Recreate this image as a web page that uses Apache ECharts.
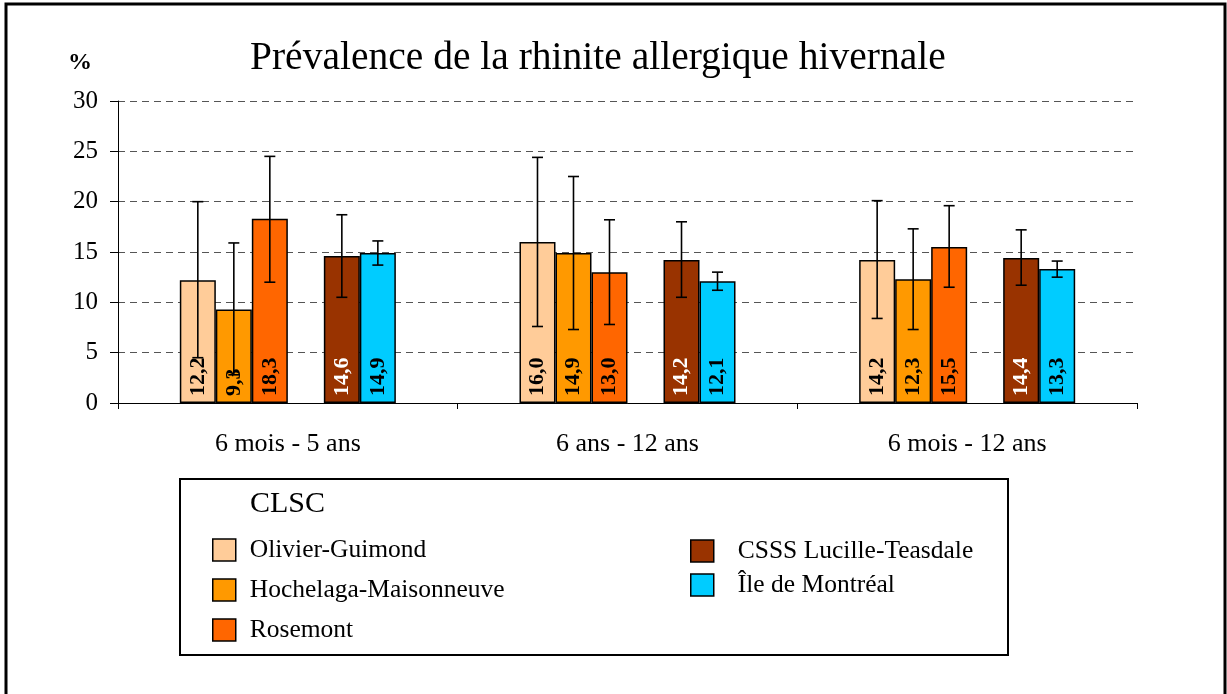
<!DOCTYPE html>
<html>
<head>
<meta charset="utf-8">
<script src="https://cdn.jsdelivr.net/npm/echarts@6/dist/echarts.min.js"></script>
<style>
html, body { margin: 0; padding: 0; background: #fff; }
#main { width: 1227px; height: 694px; }
</style>
</head>
<body>
<div id="main"></div>
<script>
// catégories (groupes d'âge)
var categories = ['6 mois - 5 ans', '6 ans - 12 ans', '6 mois - 12 ans'];
var yTicks = [0, 5, 10, 15, 20, 25, 30];

// prévalence (%) par CLSC
var olivier = [12.2, 16.0, 14.2];
var hochelaga = [9.3, 14.9, 12.3];
var rosemont = [18.3, 13.0, 15.5];
var csss = [14.6, 14.2, 14.4];
var ile = [14.9, 12.1, 13.3];

// intervalles de confiance (bas / haut)
var olivierLow = [4.5, 7.6, 8.4];
var olivierHigh = [20.0, 24.4, 20.1];
var hochelagaLow = [2.8, 7.3, 7.3];
var hochelagaHigh = [15.9, 22.5, 17.3];
var rosemontLow = [12.0, 7.8, 11.5];
var rosemontHigh = [24.5, 18.2, 19.6];
var csssLow = [10.5, 10.5, 11.7];
var csssHigh = [18.7, 18.0, 17.2];
var ileLow = [13.7, 11.2, 12.5];
var ileHigh = [16.1, 13.0, 14.1];

var FONT = '"Liberation Serif", "Times New Roman", serif';
var CAT_GAP = 0.364;

var myChart = echarts.init(document.getElementById('main'));

function fmt(v) {
	return v.toFixed(1).replace('.', ',');
}

function barSeries(name, data, color, labelColor) {
	return {
		name: name,
		type: 'bar',
		data: data,
		barGap: '0%',
		barCategoryGap: (CAT_GAP * 100) + '%',
		itemStyle: {
			color: color,
			borderColor: '#000',
			borderWidth: 1.5
		},
		label: {
			show: true,
			position: 'insideBottom',
			rotate: 90,
			align: 'left',
			verticalAlign: 'middle',
			distance: 7,
			fontFamily: FONT,
			fontWeight: 'bold',
			fontSize: 22,
			color: labelColor,
			formatter: function (p) { return fmt(p.value); }
		}
	};
}

// barres d'erreur : [catégorie, position dans le groupe, bas, haut]
var errData = [];
var errSets = [
	[0, olivierLow, olivierHigh],
	[1, hochelagaLow, hochelagaHigh],
	[2, rosemontLow, rosemontHigh],
	[4, csssLow, csssHigh],
	[5, ileLow, ileHigh]
];
for (var s = 0; s < errSets.length; s++) {
	for (var i = 0; i < categories.length; i++) {
		errData.push([i, errSets[s][0], errSets[s][1][i], errSets[s][2][i]]);
	}
}

var lineStyle = { stroke: '#000', lineWidth: 1.6 };

myChart.setOption({
	animation: false,
	title: {
		text: 'Prévalence de la rhinite allergique hivernale',
		left: 245,
		top: 34,
		textStyle: {
			fontFamily: FONT,
			fontWeight: 'normal',
			fontSize: 39.5,
			color: '#000'
		}
	},
	grid: {
		left: 118,
		right: 90,
		top: 101,
		bottom: 291
	},
	legend: [{
		data: ['Olivier-Guimond', 'Hochelaga-Maisonneuve', 'Rosemont'],
		orient: 'vertical',
		left: 207,
		top: 532,
		itemWidth: 23,
		itemHeight: 22,
		itemGap: 14,
		icon: 'rect',
		itemStyle: { borderColor: '#000', borderWidth: 1.5 },
		textStyle: { fontFamily: FONT, fontSize: 25.5, color: '#000', padding: [0, 0, 0, 9] }
	}, {
		data: ['CSSS Lucille-Teasdale', 'Île de Montréal'],
		orient: 'vertical',
		left: 685,
		top: 533,
		itemWidth: 23,
		itemHeight: 22,
		itemGap: 8,
		icon: 'rect',
		itemStyle: { borderColor: '#000', borderWidth: 1.5 },
		textStyle: { fontFamily: FONT, fontSize: 25.5, color: '#000', padding: [0, 0, 0, 19] }
	}],
	xAxis: {
		type: 'category',
		data: categories,
		axisLine: { lineStyle: { color: '#000', width: 1 } },
		axisTick: { show: true, length: 6, lineStyle: { color: '#000' } },
		axisLabel: {
			margin: 28,
			fontFamily: FONT,
			fontSize: 26,
			color: '#000'
		}
	},
	yAxis: {
		type: 'value',
		min: yTicks[0],
		max: yTicks[yTicks.length - 1],
		interval: 5,
		name: '%',
		nameLocation: 'end',
		nameGap: 26,
		nameTextStyle: {
			fontFamily: FONT,
			fontWeight: 'bold',
			fontSize: 24,
			color: '#000',
			align: 'right',
			padding: [0, 26, 0, 0]
		},
		axisLine: { show: true, lineStyle: { color: '#000', width: 1 } },
		axisTick: { show: true, length: 8, lineStyle: { color: '#000' } },
		axisLabel: {
			margin: 20,
			fontFamily: FONT,
			fontSize: 25,
			color: '#000'
		},
		splitLine: {
			show: true,
			lineStyle: { color: '#555', width: 1, type: [7, 5] }
		}
	},
	graphic: [{
		type: 'rect',
		shape: { x: 6, y: 4, width: 1219, height: 700 },
		style: { fill: 'none', stroke: '#000', lineWidth: 3 },
		silent: true
	}, {
		type: 'rect',
		shape: { x: 180, y: 479, width: 828, height: 176 },
		style: { fill: 'none', stroke: '#000', lineWidth: 2 },
		silent: true
	}, {
		type: 'text',
		left: 250,
		top: 489,
		style: {
			text: 'CLSC',
			font: '30px ' + FONT,
			fill: '#000'
		},
		silent: true
	}],
	series: [
		barSeries('Olivier-Guimond', olivier, '#FFCC99', '#000'),
		barSeries('Hochelaga-Maisonneuve', hochelaga, '#FF9900', '#000'),
		barSeries('Rosemont', rosemont, '#FF6600', '#000'),
		{
			// case vide entre les deux groupes de barres
			name: '',
			type: 'bar',
			data: ['-', '-', '-'],
			barGap: '0%',
			barCategoryGap: (CAT_GAP * 100) + '%'
		},
		barSeries('CSSS Lucille-Teasdale', csss, '#993300', '#fff'),
		barSeries('Île de Montréal', ile, '#00CCFF', '#000'),
		{
			type: 'custom',
			z: 10,
			data: errData,
			encode: { x: 0, y: [2, 3] },
			renderItem: function (params, api) {
				var cat = api.value(0);
				var slot = api.value(1);
				var lo = api.coord([cat, api.value(2)]);
				var hi = api.coord([cat, api.value(3)]);
				var band = api.size([1, 0])[0];
				var bw = band * (1 - CAT_GAP) / 6;
				var x = lo[0] + (slot - 2.5) * bw;
				var half = 5.5;
				return {
					type: 'group',
					children: [
						{ type: 'line', shape: { x1: x, y1: hi[1], x2: x, y2: lo[1] }, style: lineStyle },
						{ type: 'line', shape: { x1: x - half, y1: hi[1], x2: x + half, y2: hi[1] }, style: lineStyle },
						{ type: 'line', shape: { x1: x - half, y1: lo[1], x2: x + half, y2: lo[1] }, style: lineStyle }
					]
				};
			}
		}
	]
});
</script>
</body>
</html>
